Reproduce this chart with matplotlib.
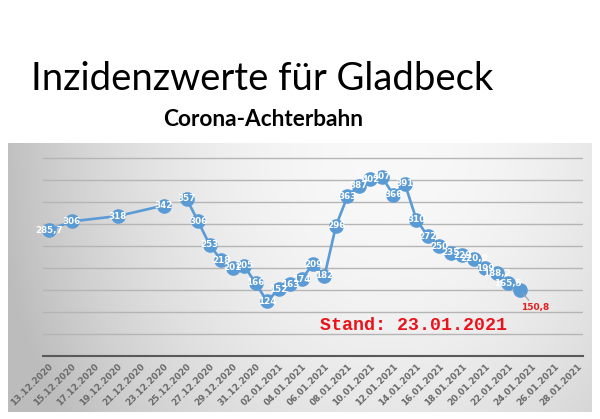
import numpy as np
import matplotlib
matplotlib.use("Agg")
import matplotlib.pyplot as plt
import datetime as dt

# ---- data ----
start = dt.date(2020, 12, 13)
seg1_dates = ["13.12.2020", "15.12.2020", "19.12.2020", "23.12.2020"]
seg1_values = [285.7, 306, 318, 342]
seg2_dates = ["25.12.2020", "26.12.2020", "27.12.2020", "28.12.2020", "29.12.2020",
              "30.12.2020", "31.12.2020", "01.01.2021", "02.01.2021", "03.01.2021",
              "04.01.2021", "05.01.2021", "06.01.2021", "07.01.2021", "08.01.2021",
              "09.01.2021", "10.01.2021", "11.01.2021", "12.01.2021", "13.01.2021",
              "14.01.2021", "15.01.2021", "16.01.2021", "17.01.2021", "18.01.2021",
              "19.01.2021", "20.01.2021", "21.01.2021", "22.01.2021", "23.01.2021"]
seg2_values = [357, 306, 253, 218, 201, 205, 166, 124, 152, 163,
               174, 209, 182, 296, 363, 387, 402, 407, 366, 391,
               310, 272, 250, 235, 229, 220.9, 199, 188.2, 165.5, 150.8]
tick_labels = ["13.12.2020", "15.12.2020", "17.12.2020", "19.12.2020", "21.12.2020",
               "23.12.2020", "25.12.2020", "27.12.2020", "29.12.2020", "31.12.2020",
               "02.01.2021", "04.01.2021", "06.01.2021", "08.01.2021", "10.01.2021",
               "12.01.2021", "14.01.2021", "16.01.2021", "18.01.2021", "20.01.2021",
               "22.01.2021", "24.01.2021", "26.01.2021", "28.01.2021"]
title = "Inzidenzwerte für Gladbeck"
subtitle = "Corona-Achterbahn"
stand = "Stand: 23.01.2021"


def day(s):
    d = dt.datetime.strptime(s, "%d.%m.%Y").date()
    return (d - start).days


def fmt(v):
    if float(v).is_integer():
        return str(int(v))
    return ("%.1f" % v).replace(".", ",")


W, H = 600, 419
fig = plt.figure(figsize=(W / 100, H / 100), dpi=100)
fig.patch.set_facecolor("white")

# ---- background panel with gradient ----
px0, px1, py0, py1 = 8, 592, 143, 412
bg = fig.add_axes([px0 / W, 1 - py1 / H, (px1 - px0) / W, (py1 - py0) / H])
u = np.linspace(0, 1, 300)[None, :]
v = np.linspace(0, 1, 150)[:, None]
val = 0.975 - 0.22 * ((u - 0.65) / 0.65) ** 2 - 0.07 * (v ** 2)
val = np.clip(val, 0.74, 1.0)
img = np.dstack([val, val, val])
bg.imshow(img, aspect="auto", extent=[0, 1, 0, 1], interpolation="bicubic")
bg.set_axis_off()

# ---- main axes ----
ax_l, ax_r = 43, 583
ax_bottom = 356
ymax = 470
upp = 50 / 22.0
ax_top = ax_bottom - ymax / upp
ax = fig.add_axes([ax_l / W, 1 - ax_bottom / H, (ax_r - ax_l) / W, (ax_bottom - ax_top) / H])
ax.set_facecolor("none")
ax.set_xlim(-0.5, 46.5)
ax.set_ylim(0, ymax)
for s in ["top", "right", "left"]:
    ax.spines[s].set_visible(False)
ax.spines["bottom"].set_color("#595959")
ax.spines["bottom"].set_linewidth(1.5)
ax.set_yticks(np.arange(50, 451, 50))
ax.yaxis.grid(True, color="#b5b5b5", linewidth=1.0)
ax.tick_params(axis="y", left=False, labelleft=False)
ax.set_axisbelow(True)

tick_pos = [day(t) for t in tick_labels]
ax.set_xticks(tick_pos)
ax.set_xticklabels(tick_labels, rotation=45, ha="right", va="top",
                   rotation_mode="anchor", fontsize=6.3, color="#6a6a6a",
                   fontweight="bold")
ax.tick_params(axis="x", length=0, pad=4)

blue = "#5b9bd5"
for dates, vals in [(seg1_dates, seg1_values), (seg2_dates, seg2_values)]:
    xs = [day(d) for d in dates]
    ax.plot(xs, vals, color=blue, linewidth=1.9, marker="o", markersize=9.5,
            markerfacecolor=blue, markeredgecolor=blue, zorder=3, clip_on=False)

# data labels (white, centred on markers)
for dates, vals in [(seg1_dates, seg1_values), (seg2_dates[:-1], seg2_values[:-1])]:
    for d, vv in zip(dates, vals):
        ax.text(day(d), vv, fmt(vv), color="white", fontsize=6.3, fontweight="bold",
                ha="center", va="center", zorder=4)

# last value label in red with leader line
ax.annotate(fmt(seg2_values[-1]), xy=(day(seg2_dates[-1]), seg2_values[-1]),
            xytext=(11, -13), textcoords="offset points", color="#e02020",
            fontsize=6.5, fontweight="bold", ha="center", va="center", zorder=5,
            arrowprops=dict(arrowstyle="-", color="#a0a0a0", lw=0.8,
                            shrinkA=0, shrinkB=4))

# ---- texts ----
fig.text(262 / W, 1 - 79 / H, title, ha="center", va="center", fontsize=27.5,
         family="Lato", color="black")
fig.text(263 / W, 1 - 120 / H, subtitle, ha="center", va="center", fontsize=16.3,
         family="Lato", fontweight="bold", color="black")
fig.text(413 / W, 1 - 325 / H, stand, ha="center", va="center", fontsize=13.2,
         family="Liberation Mono", fontweight="bold", color="#e8141b")

fig.savefig("out.png", dpi=100)
